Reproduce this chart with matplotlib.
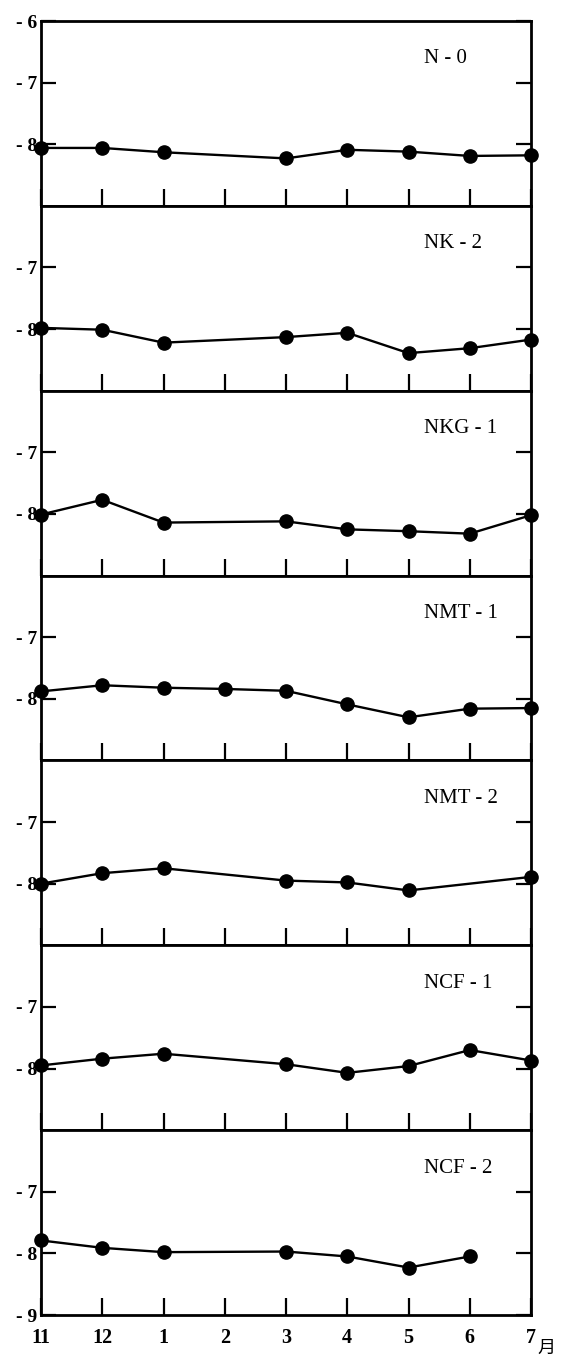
import numpy as np
import matplotlib
matplotlib.use("Agg")
import matplotlib.pyplot as plt

# Month axis (November through July)
months = ["11", "12", "1", "2", "3", "4", "5", "6", "7"]
nan = np.nan

# Plot names, one panel each
plots = ["N - 0", "NK - 2", "NKG - 1", "NMT - 1", "NMT - 2", "NCF - 1", "NCF - 2"]

# Monthly values per plot (nan = not measured that month)
n0   = [-8.06, -8.06, -8.13, nan, -8.23, -8.09, -8.12, -8.19, -8.18]
nk2  = [-7.98, -8.01, -8.22, nan, -8.13, -8.06, -8.39, -8.31, -8.17]
nkg1 = [-8.01, -7.77, -8.14, nan, -8.12, -8.25, -8.28, -8.32, -8.02]
nmt1 = [-7.88, -7.78, -7.82, -7.84, -7.87, -8.09, -8.30, -8.16, -8.15]
nmt2 = [-8.00, -7.83, -7.75, nan, -7.95, -7.98, -8.11, nan, -7.89]
ncf1 = [-7.95, -7.84, -7.76, nan, -7.93, -8.07, -7.96, -7.70, -7.87]
ncf2 = [-7.79, -7.91, -7.98, nan, -7.97, -8.05, -8.23, -8.05, nan]

series = [n0, nk2, nkg1, nmt1, nmt2, ncf1, ncf2]

W, H = 570, 1365
fig = plt.figure(figsize=(W / 100, H / 100), dpi=100)
gs = fig.add_gridspec(
    len(series), 1,
    left=41 / W, right=531 / W, top=1 - 21 / H, bottom=1 - 1315 / H,
    hspace=0,
)

serif = "Liberation Serif"
x = np.arange(len(months))

for i, (name, vals) in enumerate(zip(plots, series)):
    ax = fig.add_subplot(gs[i, 0])
    v = np.array(vals, dtype=float)
    ok = ~np.isnan(v)
    ax.plot(x[ok], v[ok], color="black", lw=1.7, marker="o", ms=9.5,
            mfc="black", mec="black", clip_on=False, zorder=3)

    ax.set_xlim(0, len(months) - 1)
    ax.set_ylim(-9, -6)

    for s in ax.spines.values():
        s.set_linewidth(2.0)

    yt = [-7, -8]
    if i == 0:
        yt = [-6] + yt
    if i == len(series) - 1:
        yt = yt + [-9]
    ax.set_yticks(yt)
    ax.set_yticklabels(["- %d" % abs(t) for t in yt],
                       fontfamily=serif, fontweight="bold", fontsize=14)
    ax.tick_params(axis="y", direction="in", length=11, width=1.6,
                   left=True, right=True, pad=3)

    ax.set_xticks(x)
    last = i == len(series) - 1
    if last:
        ax.set_xticklabels(months, fontfamily=serif, fontweight="bold",
                           fontsize=14.5)
    else:
        ax.set_xticklabels([])
    ax.tick_params(axis="x", direction="in", length=12, width=1.6,
                   bottom=True, top=False, labelbottom=last, pad=9)

    ax.text((424 - 41) / 490, 1 - 38 / 185, name, transform=ax.transAxes,
            ha="left", va="center", fontsize=15, fontfamily=serif)

fig.text(537 / W, 1 - 1348 / H, "月", ha="left", va="center",
         fontsize=13, fontfamily=["Noto Sans CJK JP", "DejaVu Sans"])

fig.savefig("out.png", dpi=100)
